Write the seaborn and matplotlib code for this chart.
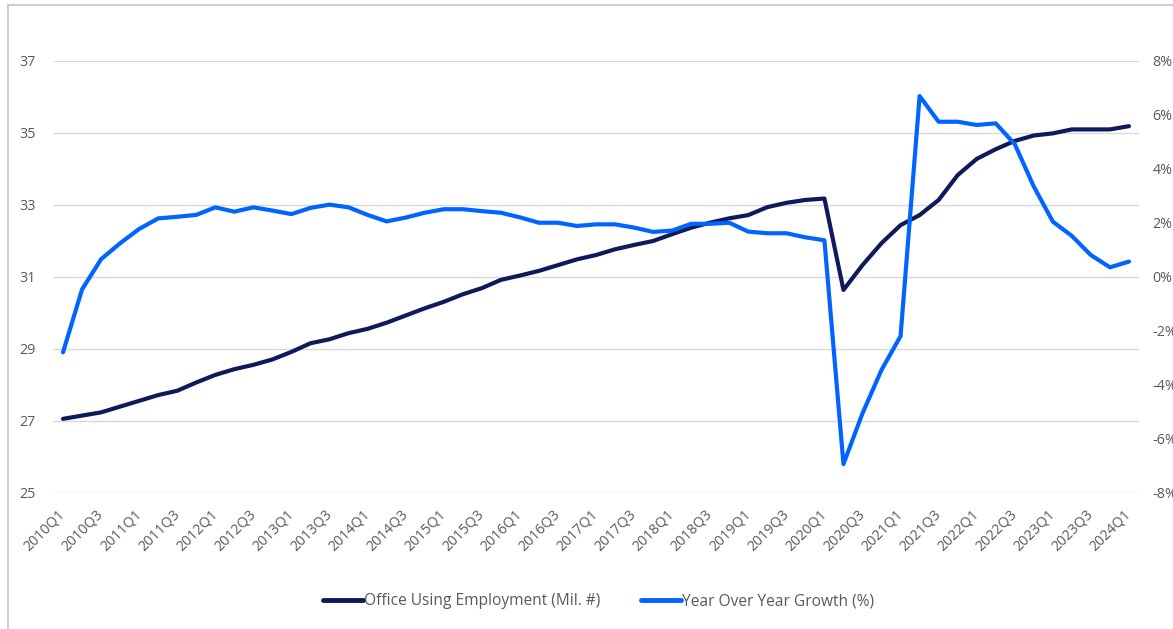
import matplotlib
matplotlib.use("Agg")
import matplotlib.pyplot as plt
import seaborn as sns
import pandas as pd
from matplotlib.lines import Line2D
from matplotlib.patches import Rectangle

quarters = [f"{y}Q{q}" for y in range(2010, 2025) for q in range(1, 5)][:57]

employment = [
    27.06, 27.15, 27.24, 27.40, 27.56, 27.72, 27.84, 28.07, 28.28, 28.44,
    28.56, 28.71, 28.92, 29.16, 29.27, 29.44, 29.56, 29.73, 29.93, 30.13,
    30.31, 30.52, 30.69, 30.92, 31.04, 31.17, 31.33, 31.49, 31.61, 31.77,
    31.89, 32.00, 32.19, 32.37, 32.51, 32.63, 32.72, 32.94, 33.06, 33.14,
    33.18, 30.64, 31.33, 31.94, 32.44, 32.72, 33.14, 33.83, 34.28, 34.55,
    34.78, 34.93, 34.99, 35.10, 35.10, 35.10, 35.19,
]

growth = [
    -2.79, -0.46, 0.66, 1.25, 1.78, 2.17, 2.23, 2.30, 2.58, 2.42,
    2.58, 2.46, 2.33, 2.56, 2.68, 2.58, 2.30, 2.06, 2.20, 2.38,
    2.51, 2.51, 2.44, 2.38, 2.21, 2.01, 2.01, 1.89, 1.95, 1.95,
    1.83, 1.67, 1.72, 1.97, 1.97, 2.01, 1.68, 1.62, 1.62, 1.47,
    1.36, -6.93, -5.05, -3.44, -2.19, 6.70, 5.75, 5.75, 5.63, 5.69,
    4.92, 3.35, 2.05, 1.52, 0.81, 0.36, 0.57,
]

left_ticks = [25, 27, 29, 31, 33, 35, 37]
right_ticks = [-8, -6, -4, -2, 0, 2, 4, 6, 8]
label_emp = "Office Using Employment (Mil. #)"
label_growth = "Year Over Year Growth (%)"

navy = "#0f1a5c"
blue = "#0064ff"
grey_txt = "#595959"

sns.set_theme(style="white")
plt.rcParams["font.family"] = ["Open Sans", "DejaVu Sans"]

df = pd.DataFrame({"quarter": quarters, "employment": employment, "growth": growth})

fig = plt.figure(figsize=(11.73, 6.29), dpi=100)
ax = fig.add_axes([53.5 / 1173, 1 - 493 / 629, 1085 / 1173, 432 / 629])
ax2 = ax.twinx()

sns.lineplot(data=df, x="quarter", y="employment", ax=ax, color=navy,
             linewidth=3, sort=False, zorder=3)
sns.lineplot(data=df, x="quarter", y="growth", ax=ax2, color=blue,
             linewidth=3, sort=False, zorder=3)

ax.set_xlim(-0.5, len(quarters) - 0.5)
ax.set_ylim(25, 37)
ax.set_yticks(left_ticks)
ax.set_yticklabels([str(t) for t in left_ticks])
ax2.set_ylim(-8, 8)
ax2.set_yticks(right_ticks)
ax2.set_yticklabels([f"{t}%" for t in right_ticks])

ax.set_xticks(range(0, len(quarters), 2))
ax.set_xticklabels(quarters[::2], rotation=45, ha="right", va="center",
                   rotation_mode="anchor")

for a in (ax, ax2):
    a.set_xlabel("")
    a.set_ylabel("")
    for s in a.spines.values():
        s.set_visible(False)
    a.patch.set_visible(False)

ax.grid(axis="y", color="#d9d9d9", linewidth=1)
ax.grid(axis="x", visible=False)
ax2.grid(False)

ax.tick_params(axis="y", length=0, pad=13, labelsize=10.3, labelcolor=grey_txt)
ax.tick_params(axis="x", length=0, pad=14, labelsize=10.3, labelcolor=grey_txt)
ax2.tick_params(axis="y", length=0, pad=10, labelsize=10.3, labelcolor=grey_txt)

handles = [Line2D([0], [0], color=navy, lw=3.5),
           Line2D([0], [0], color=blue, lw=3.5)]
fig.legend(handles, [label_emp, label_growth], loc="center",
           bbox_to_anchor=(0.51, 1 - 601 / 629), ncol=2, frameon=False,
           fontsize=11.2, handlelength=2.6, handletextpad=0.05,
           columnspacing=2.6, labelcolor=grey_txt)

fig.patches.append(Rectangle((8 / 1173, -0.1), 1.2, 1 - 5 / 629 + 0.1,
                             transform=fig.transFigure, fill=False,
                             edgecolor="#c4c4c4", linewidth=1.2))

fig.savefig("out.png", dpi=100)
